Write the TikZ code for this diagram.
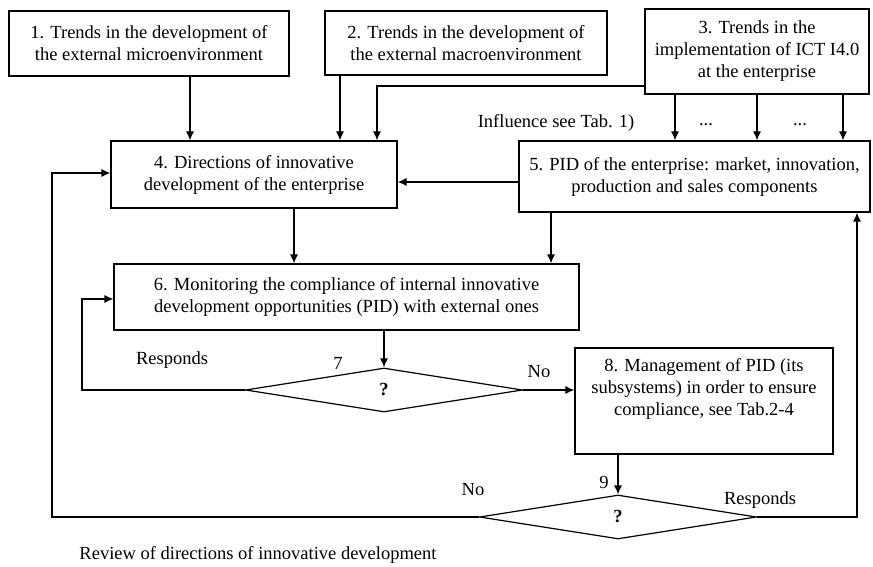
\documentclass[tikz,border=0pt]{standalone}
\usepackage{fontspec}
\setmainfont{Liberation Serif}
\usetikzlibrary{shapes.geometric,arrows.meta}
\begin{document}
\begin{tikzpicture}[x=1pt,y=-1pt,
  txt/.style={font=\fontsize{18.5}{22}\selectfont},
  box/.style={txt,draw,line width=1.2pt,align=center,inner sep=0pt},
  dia/.style={txt,draw,diamond,line width=1.2pt,inner sep=0pt,minimum width=277pt,minimum height=44pt,font=\fontsize{18.5}{22}\selectfont\bfseries},
  lbl/.style={txt,inner sep=0pt},
  arr/.style={line width=1.2pt,-{Latex[length=9pt,width=8pt]}},
  ln/.style={line width=1.2pt}]
\useasboundingbox (0,0) rectangle (873,567);

\node[box,minimum width=280pt,minimum height=65pt] (b1) at (149,43.5) {1. Trends in the development of\\the external microenvironment};
\node[box,minimum width=282pt,minimum height=64pt] (b2) at (466,43) {2. Trends in the development of\\the external macroenvironment};
\node[box,minimum width=224pt,minimum height=85pt] (b3) at (757,51.5) {3. Trends in the\\implementation of ICT I4.0\\at the enterprise};
\node[box,minimum width=286pt,minimum height=67pt] (b4) at (254,174.5) {4. Directions of innovative\\development of the enterprise};
\node[box,minimum width=351pt,minimum height=71pt] (b5) at (694.5,176.5) {5. PID of the enterprise: market, innovation,\\production and sales components};
\node[box,minimum width=465pt,minimum height=66pt] (b6) at (346.5,297) {6. Monitoring the compliance of internal innovative\\development opportunities (PID) with external ones};
\node[box,minimum width=258pt,minimum height=106pt] (b8) at (704,401) {8. Management of PID (its\\subsystems) in order to ensure\\compliance, see Tab.2-4\\\strut};
\node[dia] (d7) at (384,390) {?};
\node[dia] (d9) at (618,517) {?};

% helper coordinates
\coordinate (x1) at (190,0);
\coordinate (x2) at (340,0);
\coordinate (k3) at (377,86);
\coordinate (x3a) at (675,0);
\coordinate (x3b) at (757,0);
\coordinate (x3c) at (843,0);
\coordinate (y5) at (0,182);
\coordinate (x4) at (294,0);
\coordinate (x5) at (551,0);
\coordinate (l7) at (82,299);
\coordinate (r9) at (857,0);
\coordinate (l9) at (52,173);

\draw[arr] (b1.south -| x1) -- (b4.north -| x1);
\draw[arr] (b2.south -| x2) -- (b4.north -| x2);
\draw[arr] (b3.west |- k3) -- (k3) -- (k3 |- b4.north);
\draw[arr] (b3.south -| x3a) -- (b5.north -| x3a);
\draw[arr] (b3.south -| x3b) -- (b5.north -| x3b);
\draw[arr] (b3.south -| x3c) -- (b5.north -| x3c);
\draw[arr] (b5.west |- y5) -- (b4.east |- y5);
\draw[arr] (b4.south -| x4) -- (b6.north -| x4);
\draw[arr] (b5.south -| x5) -- (b6.north -| x5);
\draw[arr] (b6.south -| d7.north) -- (d7.north);
\draw[arr] (d7.west) -- (d7.west -| l7) -- (l7) -- (b6.west |- l7);
\draw[arr] (d7.east) -- (b8.west |- d7.east);
\draw[arr] (b8.south -| d9.north) -- (d9.north);
\draw[arr] (d9.east) -- (d9.east -| r9) -- (b5.south -| r9);
\draw[arr] (d9.west) -- (d9.west -| l9) -- (l9) -- (b4.west |- l9);

\node[lbl] (infl) at (556,123) {Influence see Tab. 1)};
\node[lbl] (dots1) at (706,125) {...};
\node[lbl] (dots2) at (800,125) {...};
\node[lbl] (resp1) at (172,360) {Responds};
\node[lbl] (n7) at (338,363) {7};
\node[lbl] (no1) at (539,372) {No};
\node[lbl] (n9) at (604,482) {9};
\node[lbl] (no2) at (473,490) {No};
\node[lbl] (resp2) at (760,500) {Responds};
\node[lbl] (review) at (258,555) {Review of directions of innovative development};
\end{tikzpicture}
\end{document}
